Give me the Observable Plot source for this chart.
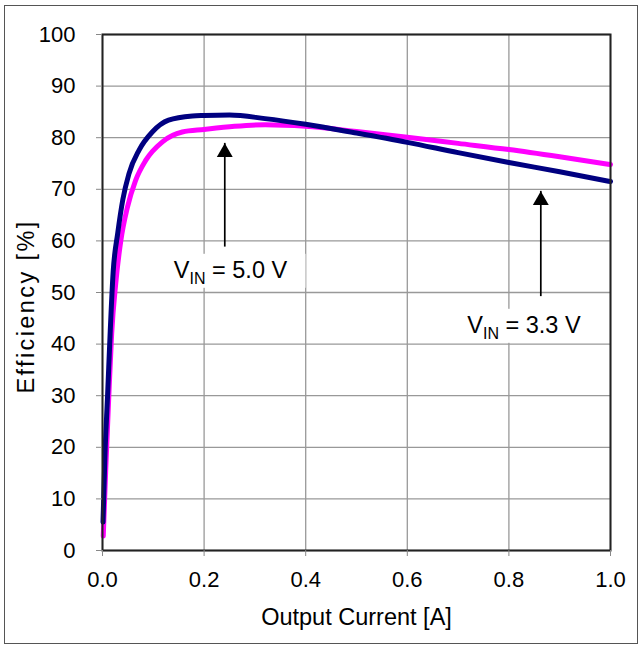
<!DOCTYPE html>
<html><head><meta charset="utf-8">
<script src="https://cdn.jsdelivr.net/npm/d3@7"></script>
<script src="https://cdn.jsdelivr.net/npm/@observablehq/plot@0.6"></script>
<style>
body{margin:0;background:#fff;}
#wrap{position:relative;width:643px;height:649px;}
#border{position:absolute;left:4px;top:5px;width:632px;height:637px;border:1px solid #555;pointer-events:none;}
svg{display:block}
</style></head><body>
<div id="wrap"><div id="chart"></div><div id="border"></div></div>
<script>
// VIN = 5.0 V (navy)
const current50 = [0.001, 0.005, 0.010, 0.015, 0.021, 0.030, 0.040, 0.052, 0.072, 0.098, 0.130, 0.177, 0.20, 0.25, 0.32, 0.40, 0.50, 0.60, 0.70, 0.80, 0.90, 1.00];
const eff50     = [5.5,   19,    30,    42,    54,    61.5,  68,    73,    77.6,  81.1,  83.4,  84.2,  84.3, 84.4, 83.7, 82.6, 80.9, 79.1, 77.1, 75.2, 73.4, 71.5];
// VIN = 3.3 V (magenta)
const current33 = [0.0015, 0.0065, 0.012, 0.018, 0.026, 0.036, 0.049, 0.065, 0.085, 0.118, 0.157, 0.20, 0.26, 0.32, 0.40, 0.50, 0.60, 0.70, 0.80, 0.90, 1.00];
const eff33     = [2.8,    16,     29,    42,    51.7,  60,    66.5,  71.7,  75.6,  79.2,  81.1,  81.6, 82.2, 82.5, 82.2, 81.2, 80.1, 78.9, 77.7, 76.3, 74.8];

const xTicks = [0, 0.2, 0.4, 0.6, 0.8, 1.0];
const yTicks = [0, 10, 20, 30, 40, 50, 60, 70, 80, 90, 100];
const xLabel = "Output Current [A]";
const yLabel = "Efficiency [%]";

const labelText = ["VIN = 5.0 V", "VIN = 3.3 V"];
const labelX = [0.1404, 0.718];
const labelY = [52.85, 42.19];
const arrowX = [0.2407, 0.8628];
const arrowTail = [58.8, 49.2];
const arrowTip = [78.9, 69.6];

const series50 = current50.map((c, i) => ({current: c, eff: eff50[i]}));
const series33 = current33.map((c, i) => ({current: c, eff: eff33[i]}));
const labels = labelText.map((t, i) => ({text: t, x: labelX[i], y: labelY[i]}));
const arrows = arrowX.map((x, i) => ({x, tail: arrowTail[i], tip: arrowTip[i]}));

const plot = Plot.plot({
  width: 643, height: 649,
  marginLeft: 102, marginRight: 33, marginTop: 34, marginBottom: 99,
  style: {fontFamily: "'Liberation Sans', Arial, sans-serif", fontSize: "22px", background: "white", color: "black"},
  x: {domain: [0, 1]},
  y: {domain: [0, 100]},
  marks: [
    Plot.gridX(xTicks, {stroke: "#999", strokeOpacity: 1, strokeWidth: 1.3}),
    Plot.gridY(yTicks, {stroke: "#999", strokeOpacity: 1, strokeWidth: 1.3}),
    Plot.line(series33, {x: "current", y: "eff", stroke: "#FF00FF", strokeWidth: 5, curve: "monotone-x"}),
    Plot.line(series50, {x: "current", y: "eff", stroke: "#000080", strokeWidth: 5, curve: "monotone-x"}),
    Plot.ruleX(arrows, {x: "x", y1: "tail", y2: "tip", stroke: "black", strokeWidth: 1.7}),
    Plot.dot(arrows, {x: "x", y: "tip", symbol: "triangle", r: 5.9, fill: "black", stroke: "none", dy: 9.1}),
    Plot.text(labels, {x: "x", y: "y", text: "text", textAnchor: "start", lineAnchor: "bottom", fontSize: 23.5, fill: "black"}),
    Plot.frame({stroke: "#222", strokeWidth: 2}),
    Plot.axisX(xTicks, {tickSize: 6, tickPadding: 15, tickFormat: d3.format(".1f"), stroke: "#888", fill: "black", label: null, fontSize: 22}),
    Plot.axisY(yTicks, {tickSize: 6, tickPadding: 21, tickFormat: d => String(d), stroke: "#888", fill: "black", label: null, fontSize: 22}),
    Plot.text([xLabel], {text: d => d, frameAnchor: "bottom", textAnchor: "middle", dy: 74, lineAnchor: "bottom", fontSize: 23.5, fill: "black"}),
    Plot.text([yLabel], {text: d => d, frameAnchor: "left", textAnchor: "middle", dx: -69, dy: 14, rotate: -90, lineAnchor: "bottom", fontSize: 23.5, fill: "black"})
  ]
});
document.getElementById("chart").append(plot);

const svg = d3.select(plot);
svg.selectAll("text").each(function() {
  const t = this.textContent.trim();
  if (t === yLabel) {
    this.setAttribute("letter-spacing", "2.4");
    this.style.letterSpacing = "2.4px";
  }
  if (t.startsWith("VIN")) {
    const el = d3.select(this);
    el.text("");
    el.append("tspan").text("V");
    el.append("tspan").attr("dy", 6).attr("font-size", 16).text("IN");
    el.append("tspan").attr("dy", -6).text(t.slice(3));
    const bb = this.getBBox();
    const padL = 13, padR = 18, padT = 3, padB = 1;
    const rect = document.createElementNS("http://www.w3.org/2000/svg", "rect");
    rect.setAttribute("x", bb.x - padL);
    rect.setAttribute("y", bb.y - padT);
    rect.setAttribute("width", bb.width + padL + padR);
    rect.setAttribute("height", bb.height + padT + padB);
    rect.setAttribute("fill", "white");
    const tr = this.getAttribute("transform");
    if (tr) rect.setAttribute("transform", tr);
    this.parentNode.insertBefore(rect, this);
  }
});
</script>
</body></html>
